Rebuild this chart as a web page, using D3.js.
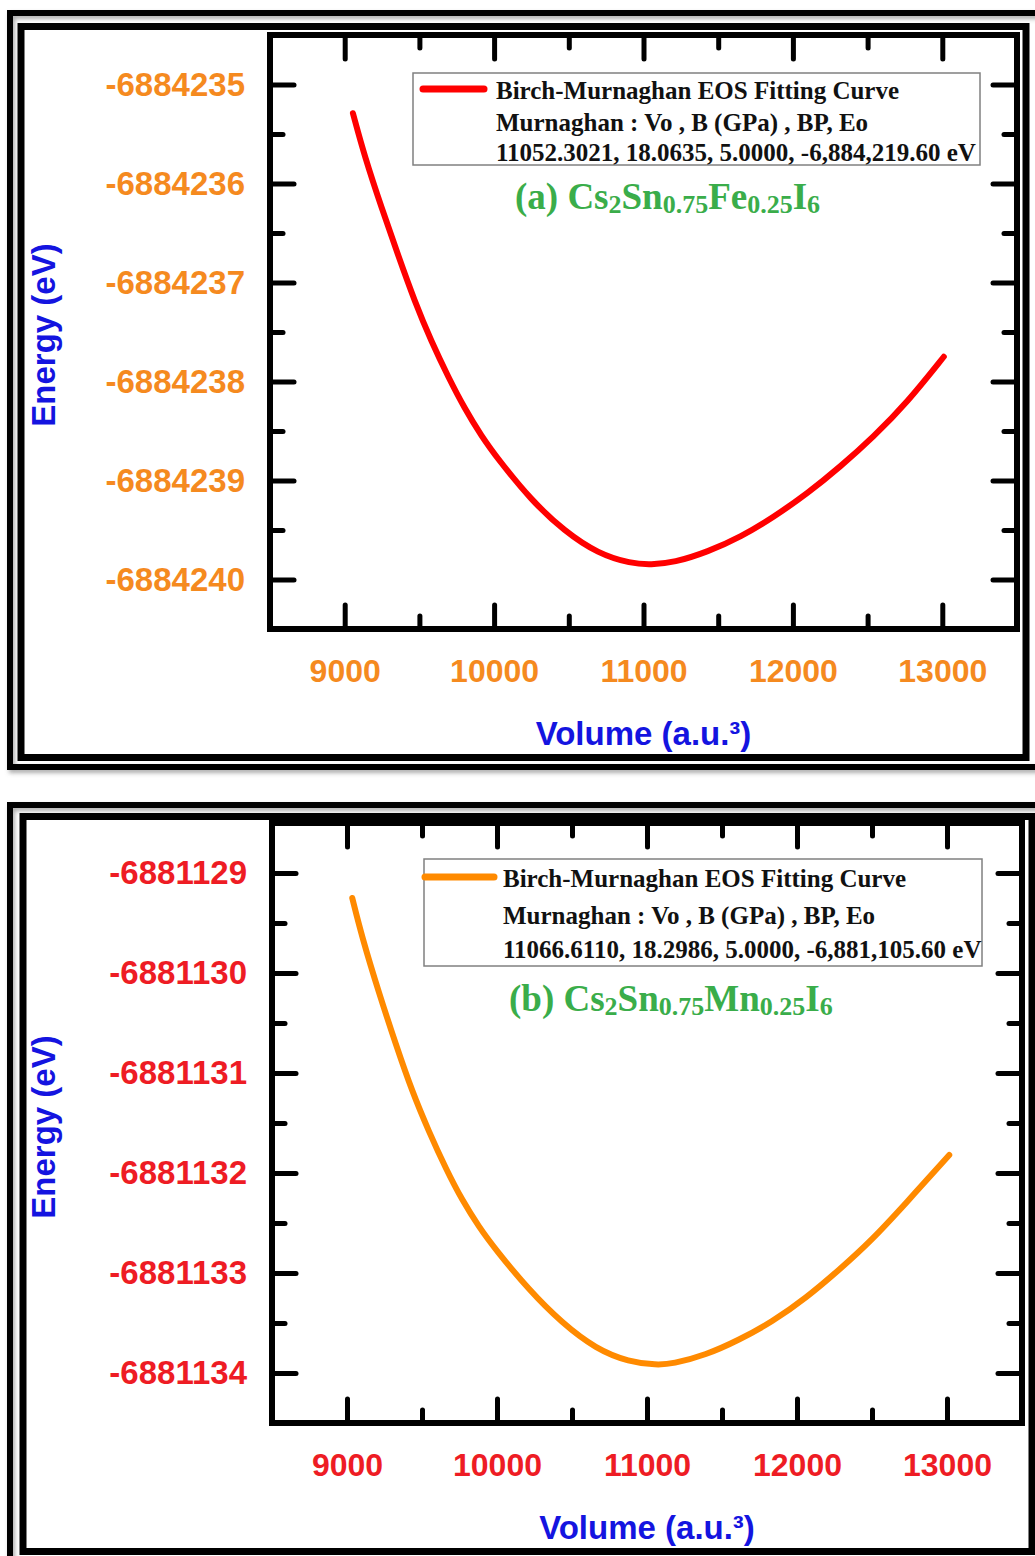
<!DOCTYPE html>
<html>
<head>
<meta charset="utf-8">
<script src="https://cdn.jsdelivr.net/npm/d3@7"></script>
<style>
  body { margin: 0; background: #fff; }
  svg text { font-family: "Liberation Sans", Arial, sans-serif; font-weight: bold; }
</style>
</head>
<body>
<div id="chart"></div>
<script>
// volume axis (shared)
var xTicks = [9000, 10000, 11000, 12000, 13000];
var xMinor = [8500, 9500, 10500, 11500, 12500, 13500];

// panel (a) Cs2Sn0.75Fe0.25I6
var volA = [9055, 9134, 9248, 9361, 9468, 9581, 9695, 9802, 9915, 10029, 10249, 10469, 10696, 10917, 11050,
            11204, 11431, 11651, 11871, 12098, 12318, 12539, 12766, 13010];
var energyA = [-6884235.29, -6884235.73, -6884236.25, -6884236.74, -6884237.19, -6884237.60, -6884237.96, -6884238.27,
               -6884238.55, -6884238.79, -6884239.20, -6884239.51, -6884239.74, -6884239.84, -6884239.85,
               -6884239.83, -6884239.72, -6884239.57, -6884239.37, -6884239.13, -6884238.86, -6884238.56, -6884238.21, -6884237.75];
var yTicksA = [-6884235, -6884236, -6884237, -6884238, -6884239, -6884240];
var yMinorA = [-6884234.5, -6884235.5, -6884236.5, -6884237.5, -6884238.5, -6884239.5, -6884240.5];
var legendA = ["Birch-Murnaghan EOS Fitting Curve",
               "Murnaghan : Vo , B (GPa) , BP, Eo",
               "11052.3021, 18.0635, 5.0000, -6,884,219.60 eV"];
var titleA = [["(a) Cs", 0], ["2", 1], ["Sn", 0], ["0.75", 1], ["Fe", 0], ["0.25", 1], ["I", 0], ["6", 1]];

// panel (b) Cs2Sn0.75Mn0.25I6
var volB = [9035, 9100, 9213, 9327, 9433, 9547, 9660, 9767, 9880, 9993, 10213, 10433, 10660, 10880, 11066,
            11167, 11393, 11613, 11833, 12060, 12280, 12500, 12727, 13015];
var energyB = [-6881129.25, -6881129.64, -6881130.20, -6881130.72, -6881131.18, -6881131.59, -6881131.96, -6881132.27,
               -6881132.54, -6881132.77, -6881133.17, -6881133.50, -6881133.76, -6881133.89, -6881133.92,
               -6881133.91, -6881133.82, -6881133.67, -6881133.49, -6881133.25, -6881132.97, -6881132.67, -6881132.30, -6881131.82];
var yTicksB = [-6881129, -6881130, -6881131, -6881132, -6881133, -6881134];
var yMinorB = [-6881128.5, -6881129.5, -6881130.5, -6881131.5, -6881132.5, -6881133.5, -6881134.5];
var legendB = ["Birch-Murnaghan EOS Fitting Curve",
               "Murnaghan : Vo , B (GPa) , BP, Eo",
               "11066.6110, 18.2986, 5.0000, -6,881,105.60 eV"];
var titleB = [["(b) Cs", 0], ["2", 1], ["Sn", 0], ["0.75", 1], ["Mn", 0], ["0.25", 1], ["I", 0], ["6", 1]];

var panels = [
  { vol: volA, energy: energyA, yTicks: yTicksA, yMinor: yMinorA, yDomain: [-6884240.5, -6884234.5],
    lineColor: "#ff0000", tickColor: "#f58a1f", legend: legendA, title: titleA,
    plot: {l: 270, r: 1017, t: 35, b: 629},
    outer: {x: 10, y: 13, w: 1045, h: 754}, inner: {x: 21, y: 26.5, w: 1005, h: 731},
    box: {x: 413, y: 73, w: 567, h: 92}, sample: {x1: 423, x2: 484, y: 89},
    text: {x: 496, ys: [99, 131, 161]}, titlePos: {x: 515, y: 209},
    yLabelY: 335, xLabelY: 745 },
  { vol: volB, energy: energyB, yTicks: yTicksB, yMinor: yMinorB, yDomain: [-6881134.5, -6881128.5],
    lineColor: "#ff8a00", tickColor: "#ee1c24", legend: legendB, title: titleB,
    plot: {l: 272, r: 1022, t: 823, b: 1423},
    outer: {x: 10, y: 805, w: 1045, h: 770}, inner: {x: 23, y: 816.5, w: 1009, h: 735},
    box: {x: 424, y: 859, w: 558, h: 107}, sample: {x1: 425, x2: 494, y: 877},
    text: {x: 503, ys: [887, 924, 958]}, titlePos: {x: 509, y: 1011},
    yLabelY: 1127, xLabelY: 1539 }
];

var svg = d3.select("#chart")
  .append("svg")
    .attr("width", 1035)
    .attr("height", 1556)
    .style("background", "#fff");

// soft shadow under the outer frames
svg.append("defs").append("filter")
    .attr("id", "shadow")
    .attr("x", "-5%").attr("y", "-5%").attr("width", "110%").attr("height", "110%")
  .append("feDropShadow")
    .attr("dx", 2).attr("dy", 3).attr("stdDeviation", 2)
    .attr("flood-color", "#777").attr("flood-opacity", 0.6);

// plain hyphen labels, like the original
var fmt = function(d) { return String(d); };

panels.forEach(function(p) {
  // double frame
  svg.append("rect")
    .attr("x", p.outer.x).attr("y", p.outer.y)
    .attr("width", p.outer.w).attr("height", p.outer.h)
    .attr("fill", "none").attr("stroke", "#000").attr("stroke-width", 6)
    .attr("filter", "url(#shadow)");
  svg.append("rect")
    .attr("x", p.inner.x).attr("y", p.inner.y)
    .attr("width", p.inner.w).attr("height", p.inner.h)
    .attr("fill", "#fff").attr("stroke", "#000").attr("stroke-width", 7);

  var x = d3.scaleLinear().domain([8500, 13500]).range([p.plot.l, p.plot.r]);
  var y = d3.scaleLinear().domain(p.yDomain).range([p.plot.b, p.plot.t]);

  function styleAxis(size) {
    return function(g) {
      g.select(".domain").remove();
      g.selectAll(".tick line")
        .attr("stroke", "#000")
        .attr("stroke-width", 5)
        .attr("stroke-linecap", "round");
      g.selectAll(".tick text")
        .attr("fill", p.tickColor)
        .style("font-size", size + "px")
        .style("font-family", '"Liberation Sans", Arial, sans-serif')
        .style("font-weight", "bold");
    };
  }

  // bottom axis with labels
  svg.append("g")
    .attr("transform", "translate(0," + p.plot.b + ")")
    .call(d3.axisBottom(x).tickValues(xTicks).tickSize(-24).tickPadding(30).tickFormat(fmt))
    .call(styleAxis(32));
  svg.append("g")
    .attr("transform", "translate(0," + p.plot.b + ")")
    .call(d3.axisBottom(x).tickValues(xMinor).tickSize(-13).tickFormat(""))
    .call(styleAxis(32));
  // top mirror ticks
  svg.append("g")
    .attr("transform", "translate(0," + p.plot.t + ")")
    .call(d3.axisTop(x).tickValues(xTicks).tickSize(-24).tickFormat(""))
    .call(styleAxis(32));
  svg.append("g")
    .attr("transform", "translate(0," + p.plot.t + ")")
    .call(d3.axisTop(x).tickValues(xMinor).tickSize(-13).tickFormat(""))
    .call(styleAxis(32));

  // left axis with labels
  svg.append("g")
    .attr("transform", "translate(" + p.plot.l + ",0)")
    .call(d3.axisLeft(y).tickValues(p.yTicks).tickSize(-24).tickPadding(25).tickFormat(fmt))
    .call(styleAxis(33));
  svg.append("g")
    .attr("transform", "translate(" + p.plot.l + ",0)")
    .call(d3.axisLeft(y).tickValues(p.yMinor).tickSize(-13).tickFormat(""))
    .call(styleAxis(33));
  // right mirror ticks
  svg.append("g")
    .attr("transform", "translate(" + p.plot.r + ",0)")
    .call(d3.axisRight(y).tickValues(p.yTicks).tickSize(-24).tickFormat(""))
    .call(styleAxis(33));
  svg.append("g")
    .attr("transform", "translate(" + p.plot.r + ",0)")
    .call(d3.axisRight(y).tickValues(p.yMinor).tickSize(-13).tickFormat(""))
    .call(styleAxis(33));

  // plot frame
  svg.append("rect")
    .attr("x", p.plot.l).attr("y", p.plot.t)
    .attr("width", p.plot.r - p.plot.l).attr("height", p.plot.b - p.plot.t)
    .attr("fill", "none").attr("stroke", "#000").attr("stroke-width", 6);

  // fitted curve
  var pts = p.vol.map(function(v, i) { return [v, p.energy[i]]; });
  svg.append("path")
    .datum(pts)
    .attr("fill", "none")
    .attr("stroke", p.lineColor)
    .attr("stroke-width", 6)
    .attr("stroke-linecap", "round")
    .attr("d", d3.line()
      .x(function(d) { return x(d[0]); })
      .y(function(d) { return y(d[1]); })
      .curve(d3.curveBasis));

  // legend box
  svg.append("rect")
    .attr("x", p.box.x).attr("y", p.box.y)
    .attr("width", p.box.w).attr("height", p.box.h)
    .attr("fill", "#fff").attr("stroke", "#808080").attr("stroke-width", 1.5);
  svg.append("line")
    .attr("x1", p.sample.x1).attr("x2", p.sample.x2)
    .attr("y1", p.sample.y).attr("y2", p.sample.y)
    .attr("stroke", p.lineColor).attr("stroke-width", 7).attr("stroke-linecap", "round");
  p.legend.forEach(function(t, i) {
    svg.append("text")
      .attr("x", p.text.x).attr("y", p.text.ys[i])
      .style("font-family", '"Liberation Serif", "Times New Roman", serif')
      .style("font-size", "25px")
      .attr("fill", "#111")
      .text(t);
  });

  // compound title
  var title = svg.append("text")
    .attr("x", p.titlePos.x).attr("y", p.titlePos.y)
    .attr("fill", "#3aad4a")
    .style("font-family", '"Liberation Serif", "Times New Roman", serif');
  var shifted = false;
  p.title.forEach(function(part) {
    var sub = part[1] === 1;
    var dy = 0;
    if (sub && !shifted) { dy = 4; shifted = true; }
    else if (!sub && shifted) { dy = -4; shifted = false; }
    title.append("tspan")
      .attr("dy", dy)
      .style("font-size", sub ? "26px" : "37px")
      .text(part[0]);
  });

  // axis titles
  svg.append("text")
    .attr("transform", "translate(55," + p.yLabelY + ") rotate(-90)")
    .attr("text-anchor", "middle")
    .attr("fill", "#1414e0")
    .style("font-size", "33px")
    .text("Energy (eV)");
  svg.append("text")
    .attr("x", (p.plot.l + p.plot.r) / 2)
    .attr("y", p.xLabelY)
    .attr("text-anchor", "middle")
    .attr("fill", "#1414e0")
    .style("font-size", "33px")
    .text("Volume (a.u.³)");
});
</script>
</body>
</html>
